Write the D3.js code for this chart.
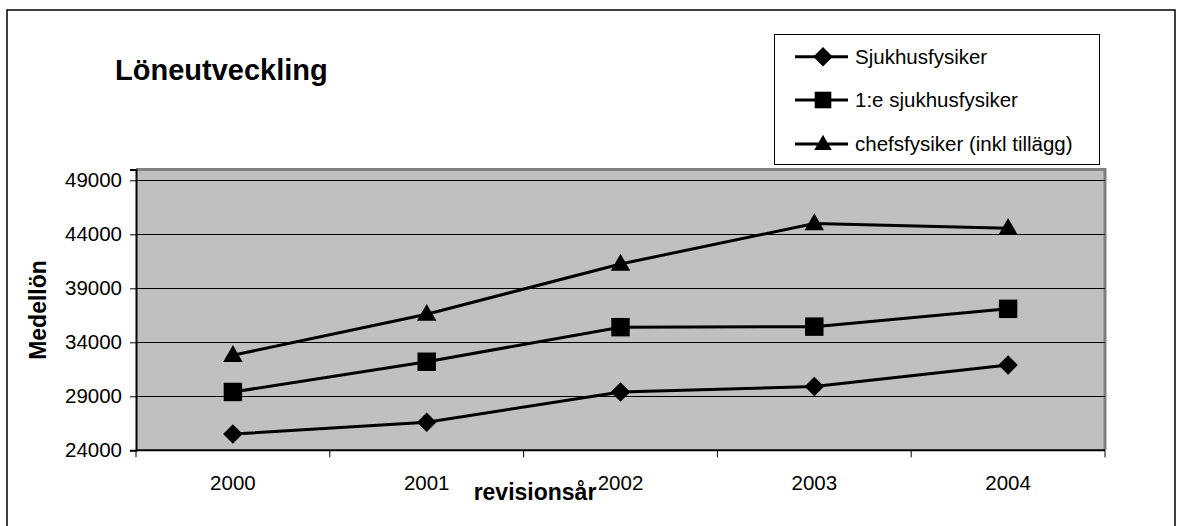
<!DOCTYPE html>
<html><head><meta charset="utf-8">
<script src="https://cdn.jsdelivr.net/npm/d3@7"></script>
<style>body{margin:0;background:#fff}svg{display:block;font-family:"Liberation Sans",Arial,sans-serif}</style>
</head><body><svg id="c" width="1181" height="526"></svg>
<script>
const years = ["2000","2001","2002","2003","2004"];
const sjukhusfysiker = [25500, 26600, 29400, 29900, 31900];
const forsteSjukhusfysiker = [29400, 32200, 35400, 35450, 37100];
const chefsfysiker = [32800, 36600, 41250, 45000, 44550];
const seriesNames = ["Sjukhusfysiker", "1:e sjukhusfysiker", "chefsfysiker (inkl tillägg)"];
const yTicks = [24000, 29000, 34000, 39000, 44000, 49000];
const yDomain = [24000, 50000];
const title = "Löneutveckling";
const xTitle = "revisionsår";
const yTitle = "Medellön";

const series = [
  {name: seriesNames[0], values: sjukhusfysiker, kind: "diamond"},
  {name: seriesNames[1], values: forsteSjukhusfysiker, kind: "square"},
  {name: seriesNames[2], values: chefsfysiker, kind: "triangle"}
];
function markerPath(kind){
  if(kind==="diamond") return d3.symbol().type(d3.symbolSquare).size(190)();
  if(kind==="square") return d3.symbol().type(d3.symbolSquare).size(340)();
  return d3.symbol().type(d3.symbolTriangle).size(165)();
}
function markerXf(kind, cx, cy){
  if(kind==="diamond") return `translate(${cx},${cy}) rotate(45)`;
  if(kind==="triangle") return `translate(${cx},${cy+1})`;
  return `translate(${cx},${cy})`;
}

const svg = d3.select("#c");
const P = {l:136, r:1105, t:169.5, b:450.3};

svg.append("rect").attr("x",7).attr("y",10).attr("width",1168).attr("height",530)
  .attr("fill","#fff").attr("stroke","#000").attr("stroke-width",1.5);

const x = d3.scaleBand().domain(years).range([P.l, P.r]);
const y = d3.scaleLinear().domain(yDomain).range([P.b, P.t]);

// plot area
svg.append("rect").attr("x",P.l).attr("y",P.t).attr("width",P.r-P.l).attr("height",P.b-P.t)
  .attr("fill","#c0c0c0");
svg.append("path").attr("d",`M${P.l},${P.t} H${P.r} V${P.b}`).attr("fill","none")
  .attr("stroke","#808080").attr("stroke-width",3);

// gridlines
svg.append("g").selectAll("line").data(yTicks.filter(v=>v>yDomain[0])).join("line")
  .attr("x1",P.l).attr("x2",P.r).attr("y1",d=>Math.round(y(d))+0.5).attr("y2",d=>Math.round(y(d))+0.5)
  .attr("stroke","#000").attr("stroke-width",1);

// y axis
const yAxis = d3.axisLeft(y).tickValues(yTicks).tickSize(6).tickPadding(8).tickFormat(d3.format("d"));
const gy = svg.append("g").attr("transform",`translate(${P.l},0)`).call(yAxis);
gy.select(".domain").attr("stroke","#000").attr("stroke-width",2);
gy.selectAll(".tick line").attr("stroke","#000");
gy.selectAll("text").attr("font-size","20.5px").attr("fill","#000").attr("font-family","Liberation Sans, Arial, sans-serif");

// x axis: ticks at band boundaries
const gx = svg.append("g").attr("transform",`translate(0,${P.b})`);
gx.append("line").attr("x1",P.l).attr("x2",P.r).attr("y1",0).attr("y2",0).attr("stroke","#000").attr("stroke-width",2);
const bounds = years.map(d=>x(d)).concat([P.r]);
gx.selectAll("line.t").data(bounds).join("line").attr("class","t")
  .attr("x1",d=>d).attr("x2",d=>d).attr("y1",0).attr("y2",7).attr("stroke","#000");
gx.selectAll("text").data(years).join("text")
  .attr("x",d=>x(d)+x.bandwidth()/2).attr("y",40).attr("text-anchor","middle")
  .attr("font-size","20.5px").text(d=>d);

// lines and markers
const line = d3.line().x((d,i)=>x(years[i])+x.bandwidth()/2).y(d=>y(d));
series.forEach(s=>{
  svg.append("path").datum(s.values).attr("d",line).attr("fill","none")
    .attr("stroke","#000").attr("stroke-width",3);
  svg.append("g").selectAll("path").data(s.values).join("path")
    .attr("d",markerPath(s.kind))
    .attr("transform",(d,i)=>markerXf(s.kind, x(years[i])+x.bandwidth()/2, y(d)))
    .attr("fill","#000");
});

// titles
svg.append("text").attr("x",115).attr("y",80).attr("font-size","29px").attr("font-weight","bold").text(title);
svg.append("text").attr("x",535).attr("y",500).attr("text-anchor","middle").attr("font-size","23px").attr("font-weight","bold").text(xTitle);
svg.append("text").attr("transform","translate(46,310) rotate(-90)").attr("text-anchor","middle").attr("font-size","23px").attr("font-weight","bold").text(yTitle);

// legend
const lg = svg.append("g");
lg.append("rect").attr("x",774.5).attr("y",34.5).attr("width",325).attr("height",130).attr("fill","#fff").attr("stroke","#000").attr("stroke-width",1);
const rows = [56.7, 100, 144];
series.forEach((s,i)=>{
  const ry = rows[i];
  lg.append("line").attr("x1",795).attr("x2",848).attr("y1",ry).attr("y2",ry).attr("stroke","#000").attr("stroke-width",3);
  lg.append("path").attr("d",markerPath(s.kind)).attr("transform",markerXf(s.kind,823,ry)+(s.kind==="diamond"?"":" scale(0.9)")).attr("fill","#000");
  lg.append("text").attr("x",855).attr("y",ry).attr("dy","0.35em").attr("font-size","20.5px").text(s.name);
});
</script></body></html>
